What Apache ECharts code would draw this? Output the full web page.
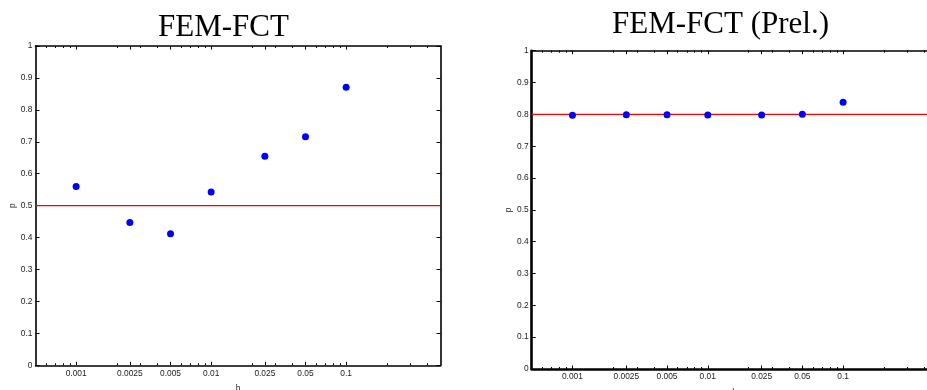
<!DOCTYPE html>
<html>
<head>
<meta charset="utf-8">
<script src="https://cdn.jsdelivr.net/npm/echarts@6/dist/echarts.min.js"></script>
<style>
  html, body { margin: 0; padding: 0; background: #fff; }
  #chart { width: 927px; height: 390px; }
</style>
</head>
<body>
<div id="chart"></div>
<script>
// Mesh width h and estimated order p for the two FEM-FCT variants
const hValues = [0.001, 0.0025, 0.005, 0.01, 0.025, 0.05, 0.1];
const pFct = [0.56, 0.447, 0.412, 0.543, 0.655, 0.716, 0.871];
const pPrel = [0.797, 0.799, 0.799, 0.798, 0.798, 0.800, 0.838];
const refFct = 0.5;
const refPrel = 0.8;

// Axis ticks
const hTickValues = [0.001, 0.0025, 0.005, 0.01, 0.025, 0.05, 0.1];
const hTickLabels = ['0.001', '0.0025', '0.005', '0.01', '0.025', '0.05', '0.1'];
const hMinorTicks = [0.0006, 0.0007, 0.0008, 0.0009,
  0.002, 0.003, 0.004, 0.006, 0.007, 0.008, 0.009,
  0.02, 0.03, 0.04, 0.06, 0.07, 0.08, 0.09,
  0.2, 0.3, 0.4];
const hRange = [0.0005, 0.5];
const pRange = [0, 1];
const pStep = 0.1;

const titles = ['FEM-FCT', 'FEM-FCT (Prel.)'];
const panelValues = [pFct, pPrel];
const panelRefs = [refFct, refPrel];

// Layout of the two panels (the second one runs past the right edge)
const panels = [
  { grid: { left: 35.5, top: 46, width: 405, height: 319.3 }, title: { x: 223.5, y: 12 },
    frame: { left: 1.6, bottom: 1.6, top: 1.6, right: 1.6 } },
  { grid: { left: 531.7, top: 50.7, width: 406, height: 318.3 }, title: { x: 720.5, y: 9.5 },
    frame: { left: 2.6, bottom: 2.6, top: 1.6, right: 1.6 } }
];

const TEXT = '#222';
const SANS = '"Liberation Sans", Arial, Helvetica, sans-serif';

function labelFor(v) {
  let best = 0, bestD = Infinity;
  hTickValues.forEach((t, i) => {
    const d = Math.abs(Math.log10(v) - Math.log10(t));
    if (d < bestD) { bestD = d; best = i; }
  });
  return hTickLabels[best];
}

const grids = [], xAxes = [], yAxes = [], series = [], titleOpts = [];

panels.forEach((pn, gi) => {
  grids.push(Object.assign({ containLabel: false, outerBoundsMode: 'none' }, pn.grid));
  titleOpts.push({
    text: titles[gi], left: pn.title.x, top: pn.title.y, textAlign: 'center', padding: 0,
    textStyle: { fontFamily: '"Liberation Serif", "Times New Roman", serif', fontSize: 31, fontWeight: 'normal', color: '#000' }
  });

  const xBase = { type: 'log', logBase: 10, min: hRange[0], max: hRange[1], gridIndex: gi, splitLine: { show: false } };
  const xIdx = xAxes.length;
  // bottom axis with major ticks and labels
  xAxes.push(Object.assign({}, xBase, {
    position: 'bottom', name: 'h', nameLocation: 'middle', nameGap: 19, nameRotate: 0,
    nameTextStyle: { color: TEXT, fontSize: 8.5, fontFamily: SANS },
    axisLine: { show: true, lineStyle: { color: '#000', width: pn.frame.bottom } },
    axisTick: { show: true, inside: true, length: 3.5, customValues: hTickValues, lineStyle: { color: '#000', width: 1 } },
    axisLabel: { show: true, customValues: hTickValues, formatter: labelFor, margin: 4, color: TEXT, fontSize: 8.4, fontFamily: SANS }
  }));
  // bottom minor ticks
  xAxes.push(Object.assign({}, xBase, {
    position: 'bottom', axisLine: { show: false },
    axisTick: { show: true, inside: true, length: 2, customValues: hMinorTicks, lineStyle: { color: '#000', width: 1 } },
    axisLabel: { show: false }
  }));
  // top frame with major ticks
  xAxes.push(Object.assign({}, xBase, {
    position: 'top', axisLine: { show: true, lineStyle: { color: '#000', width: pn.frame.top } },
    axisTick: { show: true, inside: true, length: 3.5, customValues: hTickValues, lineStyle: { color: '#000', width: 1 } },
    axisLabel: { show: false }
  }));
  // top minor ticks
  xAxes.push(Object.assign({}, xBase, {
    position: 'top', axisLine: { show: false },
    axisTick: { show: true, inside: true, length: 2, customValues: hMinorTicks, lineStyle: { color: '#000', width: 1 } },
    axisLabel: { show: false }
  }));

  const yBase = { type: 'value', min: pRange[0], max: pRange[1], interval: pStep, gridIndex: gi, splitLine: { show: false } };
  const yIdx = yAxes.length;
  yAxes.push(Object.assign({}, yBase, {
    position: 'left', name: 'p', nameLocation: 'middle', nameGap: 18,
    nameTextStyle: { color: TEXT, fontSize: 8.5, fontFamily: SANS },
    axisLine: { show: true, lineStyle: { color: '#000', width: pn.frame.left } },
    axisTick: { show: true, inside: true, length: 4, lineStyle: { color: '#000', width: 1 } },
    axisLabel: { show: true, margin: 3, color: TEXT, fontSize: 8.4, fontFamily: SANS }
  }));
  yAxes.push(Object.assign({}, yBase, {
    position: 'right',
    axisLine: { show: true, lineStyle: { color: '#000', width: pn.frame.right } },
    axisTick: { show: true, inside: true, length: 4, lineStyle: { color: '#000', width: 1 } },
    axisLabel: { show: false }
  }));

  // reference order line across the full h range
  series.push({
    type: 'line', xAxisIndex: xIdx, yAxisIndex: yIdx, z: 1, silent: true,
    symbol: 'none', showSymbol: false,
    lineStyle: { color: '#ff0000', width: 1.2, type: 'solid' },
    emphasis: { disabled: true },
    data: [[hRange[0], panelRefs[gi]], [hRange[1], panelRefs[gi]]]
  });
  // estimated orders
  series.push({
    type: 'scatter', xAxisIndex: xIdx, yAxisIndex: yIdx, z: 3,
    symbol: 'circle', symbolSize: 7,
    itemStyle: { color: '#0000ff', opacity: 1 },
    data: hValues.map((h, i) => [h, panelValues[gi][i]])
  });
});

const chart = echarts.init(document.getElementById('chart'), null, { renderer: 'canvas' });
chart.setOption({
  animation: false,
  backgroundColor: '#fff',
  title: titleOpts,
  grid: grids,
  xAxis: xAxes,
  yAxis: yAxes,
  series: series
});
</script>
</body>
</html>
